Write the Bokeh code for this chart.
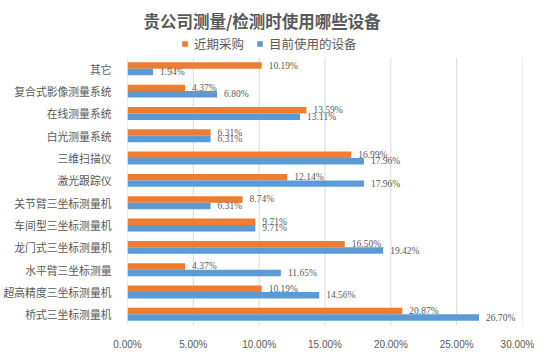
from bokeh.plotting import figure
from bokeh.models import (ColumnDataSource, Range1d, FixedTicker, PrintfTickFormatter, Legend,
                          LegendItem, LabelSet, Label)
from bokeh.embed import file_html
from bokeh.resources import INLINE

# data (bottom to top)
categories = ["桥式三坐标测量机", "超高精度三坐标测量机", "水平臂三坐标测量", "龙门式三坐标测量机",
              "车间型三坐标测量机", "关节臂三坐标测量机", "激光跟踪仪", "三维扫描仪",
              "白光测量系统", "在线测量系统", "复合式影像测量系统", "其它"]
recent = [20.87, 10.19, 4.37, 16.50, 9.71, 8.74, 12.14, 16.99, 6.31, 13.59, 4.37, 10.19]
current = [26.70, 14.56, 11.65, 19.42, 9.71, 6.31, 17.96, 17.96, 6.31, 13.11, 6.80, 1.94]
series_names = ["近期采购", "目前使用的设备"]
x_ticks = [0, 5, 10, 15, 20, 25, 30]
title_text = "贵公司测量/检测时使用哪些设备"

ORANGE = "#ED7D31"
BLUE = "#5B9BD5"
GRAY = "#595959"
CJK = "Noto Sans CJK SC"

n = len(categories)
W, H = 534, 352
left_b, right_b, bottom_b = 120, 12, 22
header_px = 58                     # room above the category area for title + legend
frame_h = H - bottom_b             # frame covers header + category area
px_per_cat = (frame_h - header_px) / n
y_top = n - 0.5 + header_px / px_per_cat
px_per_x = (W - left_b - right_b) / x_ticks[-1]

bh = 0.29
idx = list(range(n))
src = ColumnDataSource(dict(
    yr=[i + bh / 2 for i in idx], yc=[i - bh / 2 for i in idx],
    recent=recent, current=current,
    rl=["%.2f%%" % v for v in recent], cl=["%.2f%%" % v for v in current],
))

p = figure(width=W, height=H, output_backend="svg", toolbar_location=None,
           x_range=Range1d(0, x_ticks[-1]), y_range=Range1d(-0.5, y_top),
           min_border_left=left_b, min_border_right=right_b, min_border_top=0,
           min_border_bottom=bottom_b)
p.outline_line_color = None
p.background_fill_color = "white"

# vertical gridlines only across the category area
p.xgrid.visible = False
p.ygrid.visible = False
p.segment(x0=x_ticks, x1=x_ticks, y0=[-0.5] * len(x_ticks), y1=[n - 0.5] * len(x_ticks),
          line_color="#D9D9D9", line_width=1, level="underlay")

r1 = p.hbar(y="yr", right="recent", left=0, height=bh, source=src, fill_color=ORANGE, line_color=None)
r2 = p.hbar(y="yc", right="current", left=0, height=bh, source=src, fill_color=BLUE, line_color=None)

lab_kw = dict(source=src, x_offset=7, text_font="Liberation Sans", text_font_size="9.5px",
              text_color=GRAY, text_baseline="middle", text_align="left")
p.add_layout(LabelSet(x="recent", y="yr", text="rl", **lab_kw))
p.add_layout(LabelSet(x="current", y="yc", text="cl", **lab_kw))

# title (centred 137px right of the frame's left edge, 21px below the frame top)
p.add_layout(Label(x=137 / px_per_x, y=y_top - 21 / px_per_cat, text=title_text,
                   text_font=CJK, text_font_size="16.5px", text_font_style="bold",
                   text_color=GRAY, text_align="center", text_baseline="middle"))

legend = Legend(items=[LegendItem(label=series_names[0], renderers=[r1]),
                       LegendItem(label=series_names[1], renderers=[r2])],
                orientation="horizontal", location=(54, frame_h - 58),
                label_text_font=CJK, label_text_font_size="12.5px", label_text_color=GRAY,
                glyph_width=7, glyph_height=7, label_standoff=6, spacing=12, label_height=14,
                border_line_color=None, background_fill_alpha=0, padding=0, margin=0)
p.add_layout(legend)

p.xaxis.ticker = FixedTicker(ticks=x_ticks)
p.xaxis.formatter = PrintfTickFormatter(format="%.2f%%")
p.xaxis.axis_line_color = None
p.xaxis.major_tick_line_color = None
p.xaxis.minor_tick_line_color = None
p.xaxis.major_label_text_font = "Liberation Sans"
p.xaxis.major_label_text_font_size = "10px"
p.xaxis.major_label_text_color = GRAY
p.xaxis.major_label_standoff = 7

p.yaxis.ticker = FixedTicker(ticks=idx)
p.yaxis.major_label_overrides = {i: c for i, c in zip(idx, categories)}
p.yaxis.axis_line_color = None
p.yaxis.major_tick_line_color = None
p.yaxis.minor_tick_line_color = None
p.yaxis.major_label_text_font = CJK
p.yaxis.major_label_text_font_size = "10.8px"
p.yaxis.major_label_text_color = GRAY
p.yaxis.major_label_standoff = 10

open("out.html", "w").write(file_html(p, INLINE))
